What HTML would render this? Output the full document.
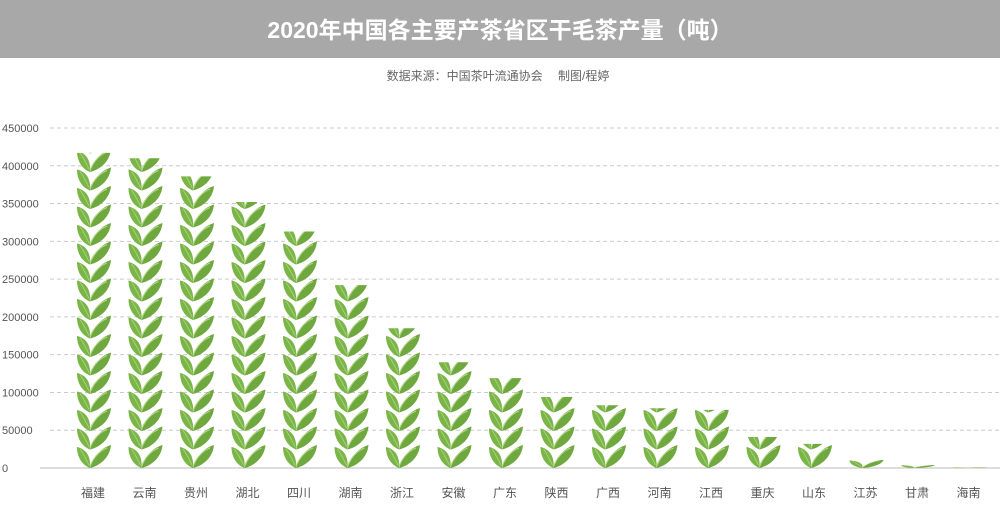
<!DOCTYPE html>
<html><head><meta charset="utf-8"><style>
body{margin:0;background:#fff;font-family:"Liberation Sans","Noto Sans CJK SC",sans-serif}
#wrap{position:relative;width:1000px;height:527px;overflow:hidden}
</style></head><body>
<div id="wrap">
<svg id="svg" width="1000" height="527" xmlns="http://www.w3.org/2000/svg">
<rect x="0" y="0" width="1000" height="58" fill="#a8a8a8"/>
<text x="500" y="38" text-anchor="middle" fill="#fff" font-size="23" font-weight="bold" font-family="Liberation Sans,Noto Sans CJK SC,sans-serif">2020年中国各主要产茶省区干毛茶产量（吨）</text>
<text x="498" y="80" text-anchor="middle" fill="#666" font-size="12" font-family="Liberation Sans,Noto Sans CJK SC,sans-serif">数据来源：中国茶叶流通协会　 制图/程婷</text>
<defs>
<g id="leaf">
<path d="M13 23 C5 20 0 12 0 2 C9 4 14 11 13 23Z" fill="#7ab548"/>
<path d="M13 23 C17 11 24 3 34 0 C33 11 25 20 13 23Z" fill="#6fa83e"/>
<path d="M13 21 C17 12 22 6 30 3" stroke="#b5d98a" stroke-width="1.2" fill="none"/>
<path d="M12 20 C9 14 6 8 3 4" stroke="#a9d07a" stroke-width="1" fill="none"/>
</g>
</defs>
<g id="grid"></g>
<g id="bars"></g>
<g id="labels"></g>
</svg>
</div>
<script>
const categories=["福建","云南","贵州","湖北","四川","湖南","浙江","安徽","广东","陕西","广西","河南","江西","重庆","山东","江苏","甘肃","海南"];
const values=[417000,410000,386000,352000,313000,242000,185000,140000,119000,94000,83000,79000,77000,41000,32000,11000,4000,1000];
const yTicks=[0,50000,100000,150000,200000,250000,300000,350000,400000,450000];
const NS="http://www.w3.org/2000/svg";
const y0=468,yTop=128,vmax=450000;
const yScale=v=>y0-(v/vmax)*(y0-yTop);
const xScale=i=>93+i*51.5;
const grid=document.getElementById('grid'),bars=document.getElementById('bars'),labels=document.getElementById('labels');
yTicks.forEach(t=>{
  const y=yScale(t);
  const l=document.createElementNS(NS,'line');
  l.setAttribute('x1',t===0?40:50);l.setAttribute('x2',1000);l.setAttribute('y1',y);l.setAttribute('y2',y);
  l.setAttribute('stroke',t===0?'#bbb':'#ccc');
  if(t!==0)l.setAttribute('stroke-dasharray','4,3');
  
  
  grid.appendChild(l);
  const tx=document.createElementNS(NS,'text');
  tx.setAttribute('x',2);tx.setAttribute('y',y+4);tx.setAttribute('font-size','11');tx.setAttribute('fill','#555');
  tx.textContent=t;
  
  
  labels.appendChild(tx);
});
const unit=18.5;
categories.forEach((c,i)=>{
  const cx=xScale(i),top=yScale(values[i]);
  const g=document.createElementNS(NS,'g');
  
  
  const cp=document.createElementNS(NS,'clipPath');cp.setAttribute('id','cp'+i);
  const r=document.createElementNS(NS,'rect');r.setAttribute('x',cx-22);r.setAttribute('width',44);r.setAttribute('y',top);r.setAttribute('height',y0-top);
  cp.appendChild(r);g.appendChild(cp);
  const inner=document.createElementNS(NS,'g');inner.setAttribute('clip-path','url(#cp'+i+')');
  const h=y0-top;
  if(h<23){
    const u=document.createElementNS(NS,'use');u.setAttribute('href','#leaf');
    const s=Math.max(h,1)/23;
    u.setAttribute('transform',`translate(${cx-16},${top}) scale(1,${s})`);
    inner.appendChild(u);
  } else {
    for(let y=y0-23;y>top-23;y-=unit){
      const u=document.createElementNS(NS,'use');u.setAttribute('href','#leaf');
      u.setAttribute('x',cx-16);u.setAttribute('y',y);
      inner.appendChild(u);
    }
  }
  g.appendChild(inner);bars.appendChild(g);
  const tx=document.createElementNS(NS,'text');
  tx.setAttribute('x',cx);tx.setAttribute('y',497);tx.setAttribute('text-anchor','middle');
  tx.setAttribute('font-size','12');tx.setAttribute('fill','#555');
  tx.textContent=c;
  
  
  labels.appendChild(tx);
});
</script>
</body></html>
